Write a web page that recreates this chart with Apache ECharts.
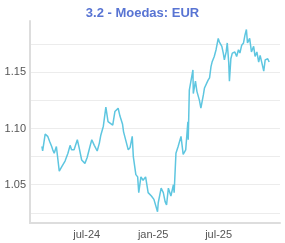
<!DOCTYPE html>
<html>
<head>
<meta charset="utf-8">
<script src="https://cdn.jsdelivr.net/npm/echarts@6/dist/echarts.min.js"></script>
<style>
  html, body { margin: 0; padding: 0; background: #fff; }
  #chart { width: 285px; height: 243px; }
</style>
</head>
<body>
<div id="chart"></div>
<script>
// EUR quotes
const dates = [
  '2024-02-28', '2024-03-01', '2024-03-08', '2024-03-15', '2024-03-21', '2024-03-26',
  '2024-03-29', '2024-04-02', '2024-04-08', '2024-04-11', '2024-04-16', '2024-04-23',
  '2024-05-02', '2024-05-10', '2024-05-16', '2024-05-20', '2024-05-27', '2024-06-05',
  '2024-06-10', '2024-06-17', '2024-06-26', '2024-07-02', '2024-07-10', '2024-07-15',
  '2024-07-22', '2024-07-30', '2024-08-05', '2024-08-09', '2024-08-16', '2024-08-23',
  '2024-08-29', '2024-09-11', '2024-09-17', '2024-09-26', '2024-10-01', '2024-10-08',
  '2024-10-11', '2024-10-24', '2024-10-29', '2024-11-04', '2024-11-07', '2024-11-14',
  '2024-11-19', '2024-11-22', '2024-11-28', '2024-12-04', '2024-12-11', '2024-12-18',
  '2024-12-27', '2025-01-03', '2025-01-13', '2025-01-15', '2025-01-23', '2025-01-29',
  '2025-02-03', '2025-02-07', '2025-02-12', '2025-02-19', '2025-02-26', '2025-02-28',
  '2025-03-05', '2025-03-11', '2025-03-19', '2025-03-25', '2025-04-01', '2025-04-07',
  '2025-04-08', '2025-04-11', '2025-04-21', '2025-04-22', '2025-04-28', '2025-05-02',
  '2025-05-09', '2025-05-13', '2025-05-20', '2025-05-23', '2025-06-02', '2025-06-06',
  '2025-06-10', '2025-06-13', '2025-06-19', '2025-06-24', '2025-06-30', '2025-07-03',
  '2025-07-10', '2025-07-14', '2025-07-17', '2025-07-22', '2025-07-25', '2025-07-29',
  '2025-07-31', '2025-08-04', '2025-08-08', '2025-08-15', '2025-08-20', '2025-08-25',
  '2025-08-29', '2025-09-03', '2025-09-08', '2025-09-12', '2025-09-16', '2025-09-19',
  '2025-09-25', '2025-09-30', '2025-10-06', '2025-10-10', '2025-10-15', '2025-10-20',
  '2025-10-24', '2025-10-29', '2025-11-03', '2025-11-07', '2025-11-14', '2025-11-18'
];
const eur = [
  1.084, 1.080, 1.095, 1.093, 1.088, 1.084,
  1.081, 1.078, 1.084, 1.085, 1.062, 1.066,
  1.071, 1.078, 1.085, 1.081, 1.081, 1.090,
  1.083, 1.072, 1.069, 1.074, 1.084, 1.090,
  1.085, 1.080, 1.087, 1.094, 1.102, 1.119,
  1.106, 1.103, 1.115, 1.118, 1.111, 1.104,
  1.097, 1.081, 1.083, 1.093, 1.075, 1.059,
  1.057, 1.043, 1.057, 1.054, 1.057, 1.043,
  1.040, 1.037, 1.026, 1.034, 1.047, 1.043,
  1.035, 1.032, 1.047, 1.040, 1.050, 1.043,
  1.078, 1.084, 1.093, 1.077, 1.081, 1.106,
  1.090, 1.134, 1.152, 1.131, 1.142, 1.133,
  1.125, 1.118, 1.130, 1.136, 1.143, 1.145,
  1.155, 1.159, 1.164, 1.170, 1.180, 1.177,
  1.173, 1.167, 1.161, 1.168, 1.176, 1.159,
  1.142, 1.162, 1.167, 1.168, 1.164, 1.170,
  1.167, 1.174, 1.176, 1.183, 1.188, 1.176,
  1.180, 1.168, 1.173, 1.164, 1.168, 1.159,
  1.165, 1.158, 1.151, 1.161, 1.162, 1.159
];

// axis labels
const xTickDates = ['2024-07-01', '2025-01-01', '2025-07-01'];
const xTickLabels = ['jul-24', 'jan-25', 'jul-25'];
const yLabelValues = [1.05, 1.10, 1.15];
const yGridValues = [1.025, 1.05, 1.075, 1.10, 1.125, 1.15, 1.175];

function toTime(s) {
  const p = s.split('-').map(Number);
  return new Date(p[0], p[1] - 1, p[2]).getTime();
}

const xTickTimes = xTickDates.map(toTime);

function xLabel(v) {
  // nearest tick date
  let best = 0;
  xTickTimes.forEach((t, i) => {
    if (Math.abs(t - v) < Math.abs(xTickTimes[best] - v)) best = i;
  });
  return xTickLabels[best];
}

const chart = echarts.init(document.getElementById('chart'));

chart.setOption({
  animation: false,
  title: {
    text: '3.2 - Moedas: EUR',
    left: 'center',
    top: 2,
    textStyle: {
      fontFamily: 'Liberation Sans, Arial, sans-serif',
      fontSize: 13,
      fontWeight: 'bold',
      color: '#5874d3',
    },
  },
  grid: {
    left: 30,
    right: 5,
    top: 21,
    bottom: 20,
  },
  xAxis: {
    type: 'value',
    min: toTime('2024-01-26'),
    max: toTime('2025-12-18'),
    axisLine: { show: true, lineStyle: { color: '#dddddd', width: 2 } },
    axisTick: { show: false, customValues: xTickTimes },
    splitLine: { show: false },
    axisLabel: {
      customValues: xTickTimes,
      formatter: xLabel,
      color: '#555',
      fontSize: 11,
      fontFamily: 'Liberation Sans, Arial, sans-serif',
      margin: 6,
      hideOverlap: false,
    },
  },
  yAxis: {
    type: 'value',
    min: 1.016,
    max: 1.1955,
    axisLine: { show: true, lineStyle: { color: '#dddddd', width: 2 } },
    axisTick: { show: false, customValues: yGridValues },
    splitLine: { show: true, lineStyle: { color: '#ececec', width: 1 } },
    axisLabel: {
      customValues: yLabelValues,
      formatter: (v) => v.toFixed(2),
      color: '#555',
      fontSize: 11,
      fontFamily: 'Liberation Sans, Arial, sans-serif',
      margin: 4,
    },
  },
  series: [
    {
      type: 'line',
      data: dates.map((d, i) => [toTime(d), eur[i]]),
      showSymbol: false,
      smooth: false,
      lineStyle: { color: '#5ec6e0', width: 1.5 },
      itemStyle: { color: '#5ec6e0' },
    },
  ],
});
</script>
</body>
</html>
